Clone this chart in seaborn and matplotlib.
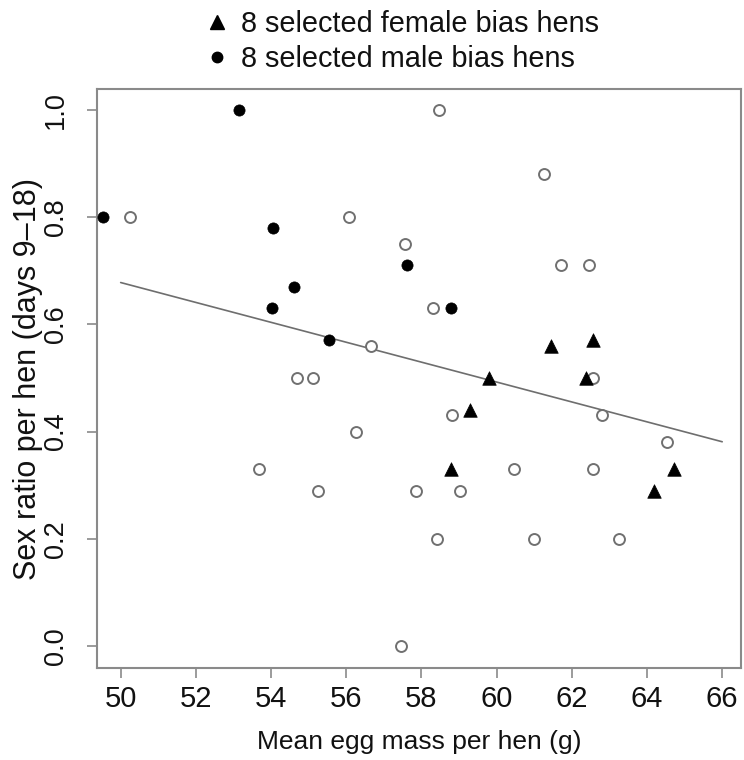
import matplotlib
matplotlib.use("Agg")
import matplotlib.pyplot as plt
import seaborn as sns
import pandas as pd
from matplotlib.lines import Line2D

# ---- data ----
open_x = [50.26, 56.08, 57.57, 56.65, 58.46, 61.25, 61.72, 62.47, 58.31, 62.55,
          58.81, 62.81, 64.52, 60.47, 62.57, 57.85, 59.03, 58.41, 61.00, 63.25,
          57.45, 54.70, 55.12, 56.26, 53.69, 55.26]
open_y = [0.80, 0.80, 0.75, 0.56, 1.00, 0.88, 0.71, 0.71, 0.63, 0.50,
          0.43, 0.43, 0.38, 0.33, 0.33, 0.29, 0.29, 0.20, 0.20, 0.20,
          0.00, 0.50, 0.50, 0.40, 0.33, 0.29]

female_x = [61.44, 62.56, 59.80, 62.37, 59.28, 58.78, 64.71, 64.19]
female_y = [0.56, 0.57, 0.50, 0.50, 0.44, 0.33, 0.33, 0.29]

male_x = [53.15, 49.52, 54.04, 57.61, 54.60, 54.03, 55.53, 58.79]
male_y = [1.00, 0.80, 0.78, 0.71, 0.67, 0.63, 0.57, 0.63]

fit_x = [50.0, 66.0]
fit_y = [0.678, 0.381]

x_ticks = [50, 52, 54, 56, 58, 60, 62, 64, 66]
y_ticks = [0.0, 0.2, 0.4, 0.6, 0.8, 1.0]
y_tick_labels = ["0.0", "0.2", "0.4", "0.6", "0.8", "1.0"]

legend_labels = ["8 selected female bias hens", "8 selected male bias hens"]
x_label = "Mean egg mass per hen (g)"
y_label = "Sex ratio per hen (days 9\u201318)"

# ---- plotting ----
sns.set_theme(style="white")
plt.rcParams["font.family"] = ["Liberation Sans", "DejaVu Sans"]

fig = plt.figure(figsize=(7.44, 7.6), dpi=100)
ax = fig.add_axes([97/744, 1 - 668/760, (741 - 97)/744, (668 - 89)/760])

df_open = pd.DataFrame({"x": open_x, "y": open_y})
df_f = pd.DataFrame({"x": female_x, "y": female_y})
df_m = pd.DataFrame({"x": male_x, "y": male_y})
df_fit = pd.DataFrame({"x": fit_x, "y": fit_y})

sns.lineplot(data=df_fit, x="x", y="y", ax=ax, color="#6e6e6e", linewidth=1.2, zorder=1)
sns.scatterplot(data=df_open, x="x", y="y", ax=ax, marker="o", s=62,
                facecolor="white", edgecolor="#707070", linewidth=1.4, zorder=2)
sns.scatterplot(data=df_f, x="x", y="y", ax=ax, marker="^", s=95,
                color="black", edgecolor="black", linewidth=0.5, zorder=3)
sns.scatterplot(data=df_m, x="x", y="y", ax=ax, marker="o", s=65,
                color="black", edgecolor="black", linewidth=0.5, zorder=3)

ax.set_xlim(49.37, 66.5)
ax.set_ylim(-0.041, 1.039)

ax.set_xticks(x_ticks)
ax.set_xticklabels([str(t) for t in x_ticks])
ax.set_yticks(y_ticks)
ax.set_yticklabels(y_tick_labels, rotation=90, va="center")

for s in ["left", "bottom", "top", "right"]:
    ax.spines[s].set_color("#8a8a8a")
    ax.spines[s].set_linewidth(1.5)
    ax.spines[s].set_visible(True)

ax.tick_params(axis="both", which="major", direction="out", length=7.5, width=1.2,
               color="#8a8a8a", labelcolor="#111111")
ax.tick_params(axis="x", bottom=True, labelsize=21, pad=5)
ax.tick_params(axis="y", left=True, labelsize=19.5, pad=13)

ax.set_xlabel(x_label, fontsize=19, color="#111111", labelpad=12)
ax.set_ylabel(y_label, fontsize=22, color="#111111", labelpad=0)

handles = [
    Line2D([], [], marker="^", color="black", linestyle="none", markersize=9.5),
    Line2D([], [], marker="o", color="black", linestyle="none", markersize=7.5),
]
fig.legend(handles, legend_labels, loc="upper left", bbox_to_anchor=(179/744, 1.021),
           frameon=False, fontsize=20.8, handletextpad=0.43, labelspacing=0.25,
           handlelength=0.8, labelcolor="#111111")

fig.savefig("out.png", dpi=100)
